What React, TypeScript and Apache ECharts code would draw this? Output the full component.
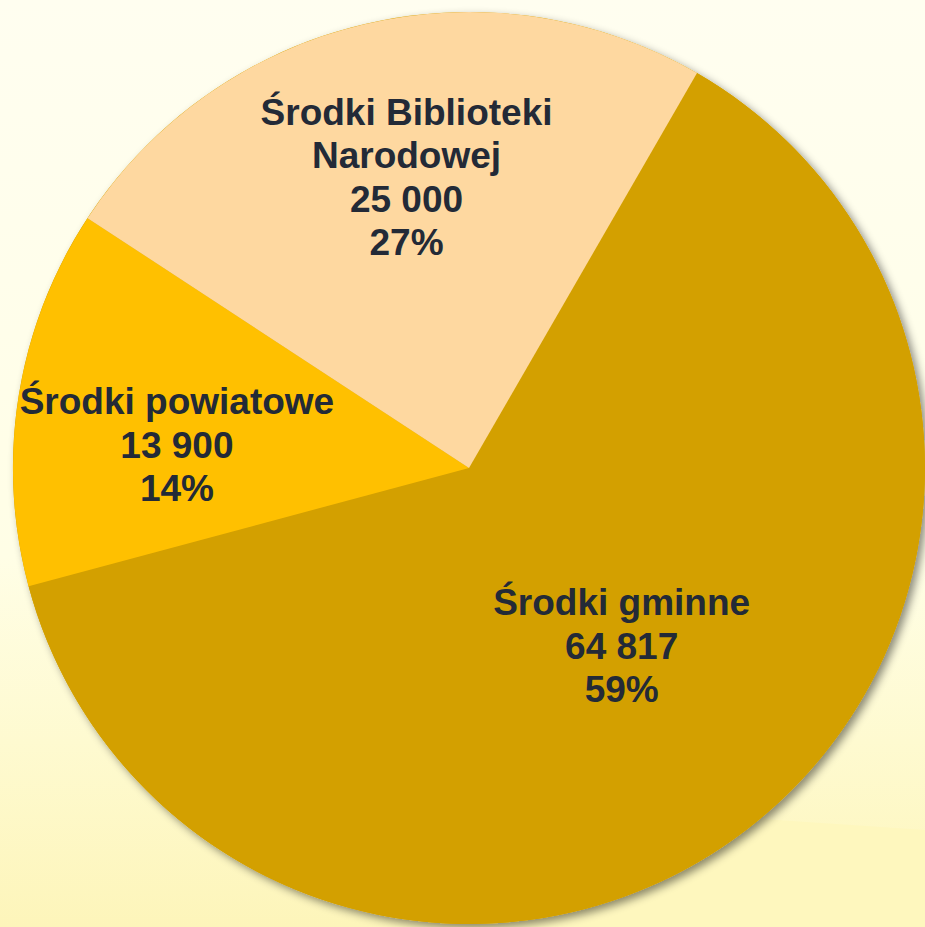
import React, { useEffect, useRef } from "react";
import * as echarts from "echarts";

const categories = ["Środki gminne", "Środki powiatowe", "Środki Biblioteki\nNarodowej"];
const values = [64817, 13900, 25000];
const percentLabels = ["59%", "14%", "27%"];
const sliceColors = ["#D3A000", "#FFC000", "#FED8A0"];
const labelShift: [number, number][] = [
  [12, -5],
  [-64, 14],
  [-9, -66],
];

function fmt(n: number): string {
  return String(n).replace(/\B(?=(\d{3})+(?!\d))/g, " ");
}

export default function App() {
  const ref = useRef<HTMLDivElement>(null);
  useEffect(() => {
    if (!ref.current) return;
    const chart = echarts.init(ref.current, undefined, { renderer: "svg" });
    const total = values.reduce((a, b) => a + b, 0);
    chart.setOption({
      animation: false,
      backgroundColor: {
        type: "linear",
        x: 0,
        y: 0,
        x2: 0,
        y2: 1,
        colorStops: [
          { offset: 0, color: "#FFFEF0" },
          { offset: 0.6, color: "#FFFEE6" },
          { offset: 0.8, color: "#FEFAD0" },
          { offset: 1, color: "#FDF5BA" },
        ],
      },
      graphic: [
        {
          type: "polygon",
          z: -10,
          shape: { points: [[480, 800], [925, 830], [925, 927], [480, 927]] },
          style: { fill: "#FEF7BE" },
          silent: true,
        },
      ],
      series: [
        {
          type: "pie",
          silent: true,
          z: 1,
          center: [469, 468],
          radius: 456,
          startAngle: 60,
          label: { show: false },
          labelLine: { show: false },
          data: [{ value: total, name: "shadow" }],
          itemStyle: {
            color: "#D3A000",
            shadowColor: "rgba(0,0,0,0.45)",
            shadowBlur: 8,
            shadowOffsetX: 4,
            shadowOffsetY: 4,
          },
        },
        {
          type: "pie",
          z: 2,
          center: [469, 468],
          radius: 456,
          startAngle: 60,
          clockwise: true,
          avoidLabelOverlap: false,
          itemStyle: { borderWidth: 0 },
          label: {
            show: true,
            position: "inside",
            color: "#232A37",
            fontFamily: "Liberation Sans, Arial, sans-serif",
            fontWeight: "bold",
            fontSize: 37,
            lineHeight: 43.5,
            align: "center",
            formatter: (p: any) =>
              `${p.name}\n${fmt(p.value)}\n${percentLabels[p.dataIndex]}`,
          },
          labelLine: { show: false },
          labelLayout: (p: any) => ({
            dx: labelShift[p.dataIndex][0],
            dy: labelShift[p.dataIndex][1],
          }),
          data: categories.map((c, i) => ({
            name: c,
            value: values[i],
            itemStyle: { color: sliceColors[i] },
          })),
        },
      ],
    });
    return () => chart.dispose();
  }, []);
  return (
    <div
      ref={ref}
      style={{ position: "absolute", left: 0, top: 0, width: 925, height: 927 }}
    />
  );
}
